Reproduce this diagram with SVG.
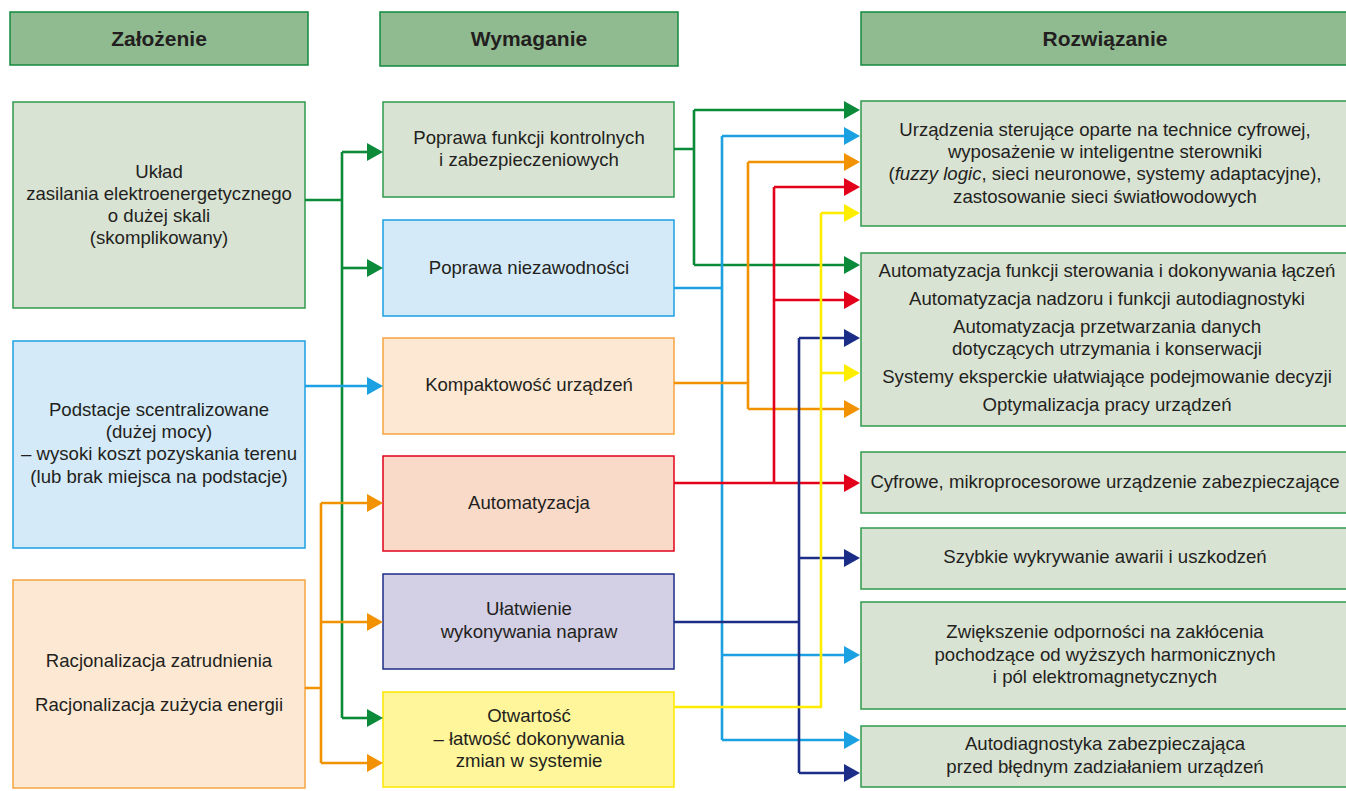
<svg xmlns="http://www.w3.org/2000/svg" width="1346" height="791" viewBox="0 0 1346 791">
<style>
text{font-family:"Liberation Sans",Arial,sans-serif;font-size:18.6px;fill:#231f20;text-anchor:middle}
.hd{font-weight:bold;font-size:21px}
.hbox{fill:#90bb90;stroke:#138a3e;stroke-width:1.5}
.gbox{fill:#d9e3d4;stroke:#2f9a4c;stroke-width:1.5}
.bbox{fill:#d4eaf8;stroke:#1ba1e2;stroke-width:1.5}
.obox{fill:#fde9d3;stroke:#f5a440;stroke-width:1.5}
.rbox{fill:#f9dac9;stroke:#e2001a;stroke-width:1.5}
.nbox{fill:#d3cfe5;stroke:#1b2d86;stroke-width:1.5}
.ybox{fill:#fff59a;stroke:#ffe600;stroke-width:1.5}
.c{fill:none;stroke-width:2.6}
.cg{stroke:#0b8a3a}.cb{stroke:#1ba1e2}.co{stroke:#f39200}.cr{stroke:#e2001a}.cn{stroke:#1b2d86}.cy{stroke:#ffed00}
</style>
<defs>
<marker id="ag" markerUnits="userSpaceOnUse" markerWidth="16" markerHeight="18" refX="0" refY="9" orient="auto"><path d="M0,0L16,9L0,18z" fill="#0b8a3a"/></marker>
<marker id="ab" markerUnits="userSpaceOnUse" markerWidth="16" markerHeight="18" refX="0" refY="9" orient="auto"><path d="M0,0L16,9L0,18z" fill="#1ba1e2"/></marker>
<marker id="ao" markerUnits="userSpaceOnUse" markerWidth="16" markerHeight="18" refX="0" refY="9" orient="auto"><path d="M0,0L16,9L0,18z" fill="#f39200"/></marker>
<marker id="ar" markerUnits="userSpaceOnUse" markerWidth="16" markerHeight="18" refX="0" refY="9" orient="auto"><path d="M0,0L16,9L0,18z" fill="#e2001a"/></marker>
<marker id="an" markerUnits="userSpaceOnUse" markerWidth="16" markerHeight="18" refX="0" refY="9" orient="auto"><path d="M0,0L16,9L0,18z" fill="#1b2d86"/></marker>
<marker id="ay" markerUnits="userSpaceOnUse" markerWidth="16" markerHeight="18" refX="0" refY="9" orient="auto"><path d="M0,0L16,9L0,18z" fill="#ffed00"/></marker>
</defs>
<rect width="1346" height="791" fill="#ffffff"/>

<g id="h1"><rect class="hbox" x="10" y="12" width="298" height="53"/><text class="hd" x="159" y="46">Założenie</text></g>
<g id="h2"><rect class="hbox" x="380" y="12" width="298" height="54"/><text class="hd" x="529" y="46">Wymaganie</text></g>
<g id="h3"><rect class="hbox" x="861" y="12" width="490" height="53"/><text class="hd" x="1105" y="46">Rozwiązanie</text></g>

<g id="z1"><rect class="gbox" x="13" y="102" width="292" height="206"/>
<text x="159" y="178">Układ</text><text x="159" y="200">zasilania elektroenergetycznego</text><text x="159" y="222">o dużej skali</text><text x="159" y="244">(skomplikowany)</text></g>
<g id="z2"><rect class="bbox" x="13" y="341" width="292" height="207"/>
<text x="159" y="416">Podstacje scentralizowane</text><text x="159" y="438">(dużej mocy)</text><text x="159" y="460">– wysoki koszt pozyskania terenu</text><text x="159" y="483">(lub brak miejsca na podstacje)</text></g>
<g id="z3"><rect class="obox" x="13" y="580" width="292" height="208"/>
<text x="159" y="667">Racjonalizacja zatrudnienia</text><text x="159" y="711">Racjonalizacja zużycia energii</text></g>

<g id="w1"><rect class="gbox" x="383" y="102" width="291" height="95"/><text x="529" y="144">Poprawa funkcji kontrolnych</text><text x="529" y="166">i zabezpieczeniowych</text></g>
<g id="w2"><rect class="bbox" x="383" y="220" width="291" height="96"/><text x="529" y="274">Poprawa niezawodności</text></g>
<g id="w3"><rect class="obox" x="383" y="338" width="291" height="96"/><text x="529" y="391">Kompaktowość urządzeń</text></g>
<g id="w4"><rect class="rbox" x="383" y="456" width="291" height="95"/><text x="529" y="509">Automatyzacja</text></g>
<g id="w5"><rect class="nbox" x="383" y="574" width="291" height="95"/><text x="529" y="615">Ułatwienie</text><text x="529" y="638">wykonywania napraw</text></g>
<g id="w6"><rect class="ybox" x="383" y="692" width="291" height="95"/><text x="529" y="722">Otwartość</text><text x="529" y="745">– łatwość dokonywania</text><text x="529" y="767">zmian w systemie</text></g>

<g id="r1"><rect class="gbox" x="861" y="101" width="490" height="125"/>
<text x="1105" y="136">Urządzenia sterujące oparte na technice cyfrowej,</text><text x="1105" y="158">wyposażenie w inteligentne sterowniki</text><text x="1105" y="180">(<tspan font-style="italic">fuzzy logic</tspan>, sieci neuronowe, systemy adaptacyjne),</text><text x="1105" y="203">zastosowanie sieci światłowodowych</text></g>
<g id="r2"><rect class="gbox" x="861" y="253" width="490" height="173"/>
<text x="1107" y="277">Automatyzacja funkcji sterowania i dokonywania łączeń</text><text x="1107" y="305">Automatyzacja nadzoru i funkcji autodiagnostyki</text><text x="1107" y="333">Automatyzacja przetwarzania danych</text><text x="1107" y="355">dotyczących utrzymania i konserwacji</text><text x="1107" y="383">Systemy eksperckie ułatwiające podejmowanie decyzji</text><text x="1107" y="411">Optymalizacja pracy urządzeń</text></g>
<g id="r3"><rect class="gbox" x="861" y="452" width="490" height="61"/><text x="1105" y="488">Cyfrowe, mikroprocesorowe urządzenie zabezpieczające</text></g>
<g id="r4"><rect class="gbox" x="861" y="528" width="490" height="61"/><text x="1105" y="563">Szybkie wykrywanie awarii i uszkodzeń</text></g>
<g id="r5"><rect class="gbox" x="861" y="602" width="490" height="107"/><text x="1105" y="638">Zwiększenie odporności na zakłócenia</text><text x="1105" y="661">pochodzące od wyższych harmonicznych</text><text x="1105" y="683">i pól elektromagnetycznych</text></g>
<g id="r6"><rect class="gbox" x="861" y="726" width="490" height="61"/><text x="1105" y="750">Autodiagnostyka zabezpieczająca</text><text x="1105" y="773">przed błędnym zadziałaniem urządzeń</text></g>

<g id="connectors">
<path class="c cg" d="M305,200H342M342,152V718"/>
<path class="c cg" d="M342,152H367" marker-end="url(#ag)"/>
<path class="c cg" d="M342,268H367" marker-end="url(#ag)"/>
<path class="c cg" d="M342,718H367" marker-end="url(#ag)"/>
<path class="c cb" d="M305,386H367" marker-end="url(#ab)"/>
<path class="c co" d="M305,688H321M321,503V763"/>
<path class="c co" d="M321,503H367" marker-end="url(#ao)"/>
<path class="c co" d="M321,622H367" marker-end="url(#ao)"/>
<path class="c co" d="M321,763H367" marker-end="url(#ao)"/>

<path class="c cg" d="M674,149H694M694,110V265"/>
<path class="c cg" d="M694,110H844" marker-end="url(#ag)"/>
<path class="c cg" d="M694,265H844" marker-end="url(#ag)"/>

<path class="c cb" d="M674,288H722M722,136V740"/>
<path class="c cb" d="M722,136H844" marker-end="url(#ab)"/>
<path class="c cb" d="M722,655H844" marker-end="url(#ab)"/>
<path class="c cb" d="M722,740H844" marker-end="url(#ab)"/>

<path class="c co" d="M674,383H748M748,162V409"/>
<path class="c co" d="M748,162H844" marker-end="url(#ao)"/>
<path class="c co" d="M748,409H844" marker-end="url(#ao)"/>

<path class="c cr" d="M774,187V483"/>
<path class="c cr" d="M774,187H844" marker-end="url(#ar)"/>
<path class="c cr" d="M774,300H844" marker-end="url(#ar)"/>
<path class="c cr" d="M674,483H844" marker-end="url(#ar)"/>

<path class="c cn" d="M674,622H799M799,338V773"/>
<path class="c cn" d="M799,338H844" marker-end="url(#an)"/>
<path class="c cn" d="M799,558H844" marker-end="url(#an)"/>
<path class="c cn" d="M799,773H844" marker-end="url(#an)"/>

<path class="c cy" d="M674,707H821V213"/>
<path class="c cy" d="M821,213H844" marker-end="url(#ay)"/>
<path class="c cy" d="M821,373H844" marker-end="url(#ay)"/>
</g>
</svg>
